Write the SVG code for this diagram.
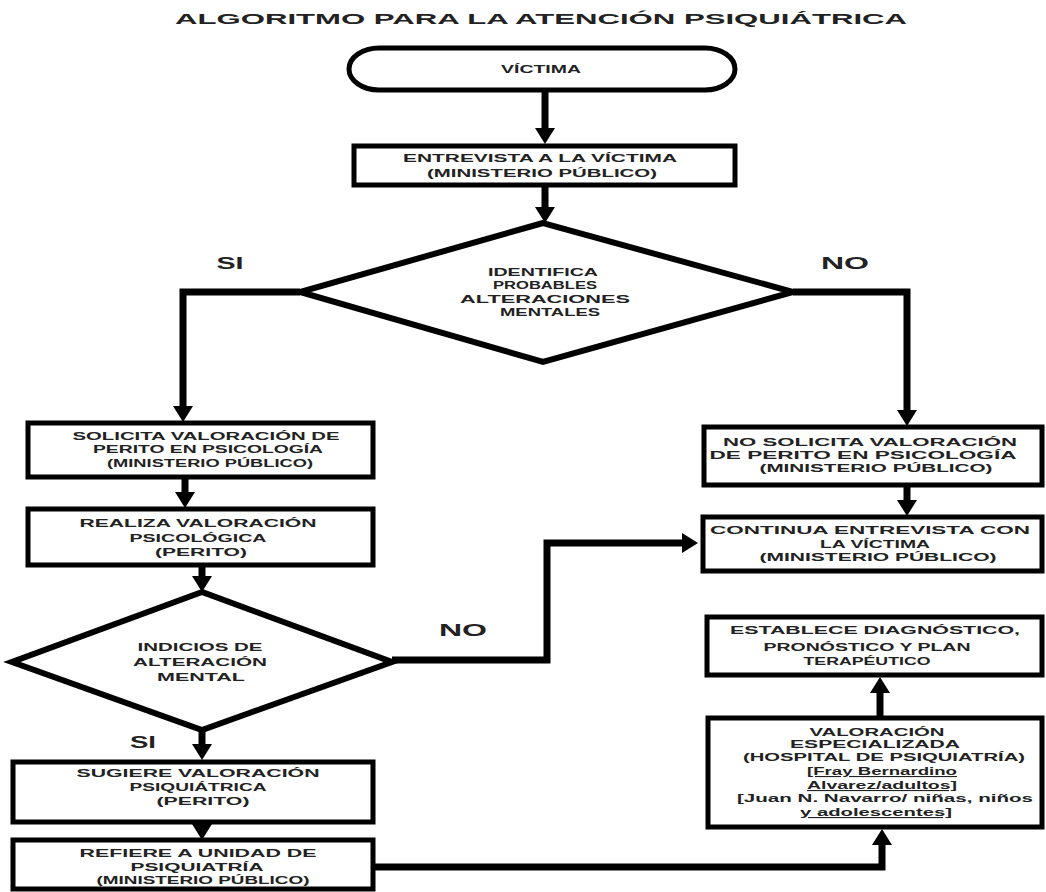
<svg xmlns="http://www.w3.org/2000/svg" width="1046" height="892" viewBox="0 0 1046 892">
<defs>
<style>
.bg{fill:#ffffff}
.box{fill:#ffffff;stroke:#000;stroke-width:5}
.dia{fill:#ffffff;stroke:#000;stroke-width:6;stroke-linejoin:miter}
.con{fill:none;stroke:#000;stroke-width:7;stroke-linejoin:miter}
.t{font-family:"Liberation Sans",Arial,sans-serif;font-size:11px;font-weight:bold;fill:#222;text-anchor:middle}
.lbl{font-family:"Liberation Sans",Arial,sans-serif;font-size:17px;font-weight:bold;fill:#222;text-anchor:middle}
.title{font-family:"Liberation Sans",Arial,sans-serif;font-size:15.5px;font-weight:bold;fill:#222;text-anchor:middle}
.u{text-decoration:underline}
</style>
<marker id="ah" markerUnits="userSpaceOnUse" markerWidth="20" markerHeight="22" refX="0" refY="11" orient="auto" overflow="visible">
<path d="M0,1 L16,11 L0,21 z" fill="#000"/>
</marker>
</defs>
<rect class="bg" x="0" y="0" width="1046" height="892"/>
<text class="title" x="541" y="24" textLength="732" lengthAdjust="spacingAndGlyphs">ALGORITMO PARA LA ATENCIÓN PSIQUIÁTRICA</text>

<g id="connectors">
<line class="con" x1="545" y1="90" x2="545" y2="128" marker-end="url(#ah)"/>
<line class="con" x1="545" y1="185" x2="545" y2="207" marker-end="url(#ah)"/>
<polyline class="con" points="300,292 183,292 183,406" marker-end="url(#ah)"/>
<polyline class="con" points="793,292 907,292 907,410" marker-end="url(#ah)"/>
<line class="con" x1="185" y1="477" x2="185" y2="492" marker-end="url(#ah)"/>
<line class="con" x1="907" y1="485" x2="907" y2="500" marker-end="url(#ah)"/>
<line class="con" x1="202" y1="565" x2="202" y2="576" marker-end="url(#ah)"/>
<polyline class="con" points="392,660 547,660 547,543 682,543" marker-end="url(#ah)"/>
<line class="con" x1="202" y1="730" x2="202" y2="744" marker-end="url(#ah)"/>
<line class="con" x1="202" y1="822" x2="202" y2="824" marker-end="url(#ah)"/>
<polyline class="con" points="373,867 882,867 882,845" marker-end="url(#ah)"/>
<line class="con" x1="880" y1="718" x2="880" y2="693" marker-end="url(#ah)"/>
</g>

<g id="n_victima">
<rect class="box" x="349" y="48" width="386" height="42" rx="30" ry="21"/>
<text class="t" x="541" y="73" textLength="80" lengthAdjust="spacingAndGlyphs">VÍCTIMA</text>
</g>

<g id="n_entrevista">
<rect class="box" x="354" y="146" width="381" height="39"/>
<text class="t" x="540" y="162" textLength="274" lengthAdjust="spacingAndGlyphs">ENTREVISTA A LA VÍCTIMA</text>
<text class="t" x="542" y="177" textLength="230" lengthAdjust="spacingAndGlyphs">(MINISTERIO PÚBLICO)</text>
</g>

<g id="n_identifica">
<polygon class="dia" points="543,223 300,292 543,362 793,292"/>
<text class="t" x="543" y="276" textLength="110" lengthAdjust="spacingAndGlyphs">IDENTIFICA</text>
<text class="t" x="545" y="289" textLength="104" lengthAdjust="spacingAndGlyphs">PROBABLES</text>
<text class="t" x="545" y="303" textLength="170" lengthAdjust="spacingAndGlyphs">ALTERACIONES</text>
<text class="t" x="550" y="316" textLength="100" lengthAdjust="spacingAndGlyphs">MENTALES</text>
</g>

<g id="labels">
<text class="lbl" x="230" y="269" textLength="27" lengthAdjust="spacingAndGlyphs">SI</text>
<text class="lbl" x="845" y="269" textLength="48" lengthAdjust="spacingAndGlyphs">NO</text>
<text class="lbl" x="463" y="636" textLength="48" lengthAdjust="spacingAndGlyphs">NO</text>
<text class="lbl" x="143" y="748" textLength="26" lengthAdjust="spacingAndGlyphs">SI</text>
</g>

<g id="n_solicita">
<rect class="box" x="28" y="423" width="345" height="54"/>
<text class="t" x="206" y="440" textLength="267" lengthAdjust="spacingAndGlyphs">SOLICITA VALORACIÓN DE</text>
<text class="t" x="208" y="453" textLength="230" lengthAdjust="spacingAndGlyphs">PERITO EN PSICOLOGÍA</text>
<text class="t" x="210" y="467" textLength="206" lengthAdjust="spacingAndGlyphs">(MINISTERIO PÚBLICO)</text>
</g>

<g id="n_no_solicita">
<rect class="box" x="704" y="427" width="338" height="58"/>
<text class="t" x="870" y="446" textLength="294" lengthAdjust="spacingAndGlyphs">NO SOLICITA VALORACIÓN</text>
<text class="t" x="863" y="459" textLength="307" lengthAdjust="spacingAndGlyphs">DE PERITO EN PSICOLOGÍA</text>
<text class="t" x="876" y="472" textLength="233" lengthAdjust="spacingAndGlyphs">(MINISTERIO PÚBLICO)</text>
</g>

<g id="n_realiza">
<rect class="box" x="28" y="509" width="345" height="56"/>
<text class="t" x="198" y="527" textLength="237" lengthAdjust="spacingAndGlyphs">REALIZA VALORACIÓN</text>
<text class="t" x="198" y="542" textLength="137" lengthAdjust="spacingAndGlyphs">PSICOLÓGICA</text>
<text class="t" x="201" y="556" textLength="92" lengthAdjust="spacingAndGlyphs">(PERITO)</text>
</g>

<g id="n_continua">
<rect class="box" x="703" y="517" width="339" height="54"/>
<text class="t" x="870" y="534" textLength="320" lengthAdjust="spacingAndGlyphs">CONTINUA ENTREVISTA CON</text>
<text class="t" x="875" y="548" textLength="110" lengthAdjust="spacingAndGlyphs">LA VÍCTIMA</text>
<text class="t" x="878" y="561" textLength="237" lengthAdjust="spacingAndGlyphs">(MINISTERIO PÚBLICO)</text>
</g>

<g id="n_indicios">
<polygon class="dia" points="202,592 12,662 202,730 392,662"/>
<text class="t" x="200" y="651" textLength="125" lengthAdjust="spacingAndGlyphs">INDICIOS DE</text>
<text class="t" x="200" y="666" textLength="134" lengthAdjust="spacingAndGlyphs">ALTERACIÓN</text>
<text class="t" x="201" y="681" textLength="88" lengthAdjust="spacingAndGlyphs">MENTAL</text>
</g>

<g id="n_establece">
<rect class="box" x="707" y="617" width="335" height="58"/>
<text class="t" x="875" y="634" textLength="290" lengthAdjust="spacingAndGlyphs">ESTABLECE DIAGNÓSTICO,</text>
<text class="t" x="867" y="651" textLength="207" lengthAdjust="spacingAndGlyphs">PRONÓSTICO Y PLAN</text>
<text class="t" x="867" y="665" textLength="127" lengthAdjust="spacingAndGlyphs">TERAPÉUTICO</text>
</g>

<g id="n_valoracion">
<rect class="box" x="708" y="718" width="334" height="109"/>
<text class="t" x="877" y="736" textLength="135" lengthAdjust="spacingAndGlyphs">VALORACIÓN</text>
<text class="t" x="875" y="748" textLength="170" lengthAdjust="spacingAndGlyphs">ESPECIALIZADA</text>
<text class="t" x="884" y="761" textLength="282" lengthAdjust="spacingAndGlyphs">(HOSPITAL DE PSIQUIATRÍA)</text>
<text class="t u" x="882" y="775" textLength="150" lengthAdjust="spacingAndGlyphs">[Fray Bernardino</text>
<text class="t u" x="882" y="789" textLength="150" lengthAdjust="spacingAndGlyphs">Alvarez/adultos]</text>
<text class="t" x="885" y="802" textLength="296" lengthAdjust="spacingAndGlyphs">[Juan N. Navarro/ niñas, niños</text>
<text class="t u" x="876" y="816" textLength="152" lengthAdjust="spacingAndGlyphs">y adolescentes]</text>
</g>

<g id="n_sugiere">
<rect class="box" x="13" y="762" width="360" height="60"/>
<text class="t" x="198" y="777" textLength="243" lengthAdjust="spacingAndGlyphs">SUGIERE VALORACIÓN</text>
<text class="t" x="198" y="791" textLength="137" lengthAdjust="spacingAndGlyphs">PSIQUIÁTRICA</text>
<text class="t" x="203" y="805" textLength="93" lengthAdjust="spacingAndGlyphs">(PERITO)</text>
</g>

<g id="n_refiere">
<rect class="box" x="13" y="840" width="360" height="49"/>
<text class="t" x="198" y="857" textLength="237" lengthAdjust="spacingAndGlyphs">REFIERE A UNIDAD DE</text>
<text class="t" x="197" y="871" textLength="133" lengthAdjust="spacingAndGlyphs">PSIQUIATRÍA</text>
<text class="t" x="203" y="884" textLength="213" lengthAdjust="spacingAndGlyphs">(MINISTERIO PÚBLICO)</text>
</g>
</svg>
